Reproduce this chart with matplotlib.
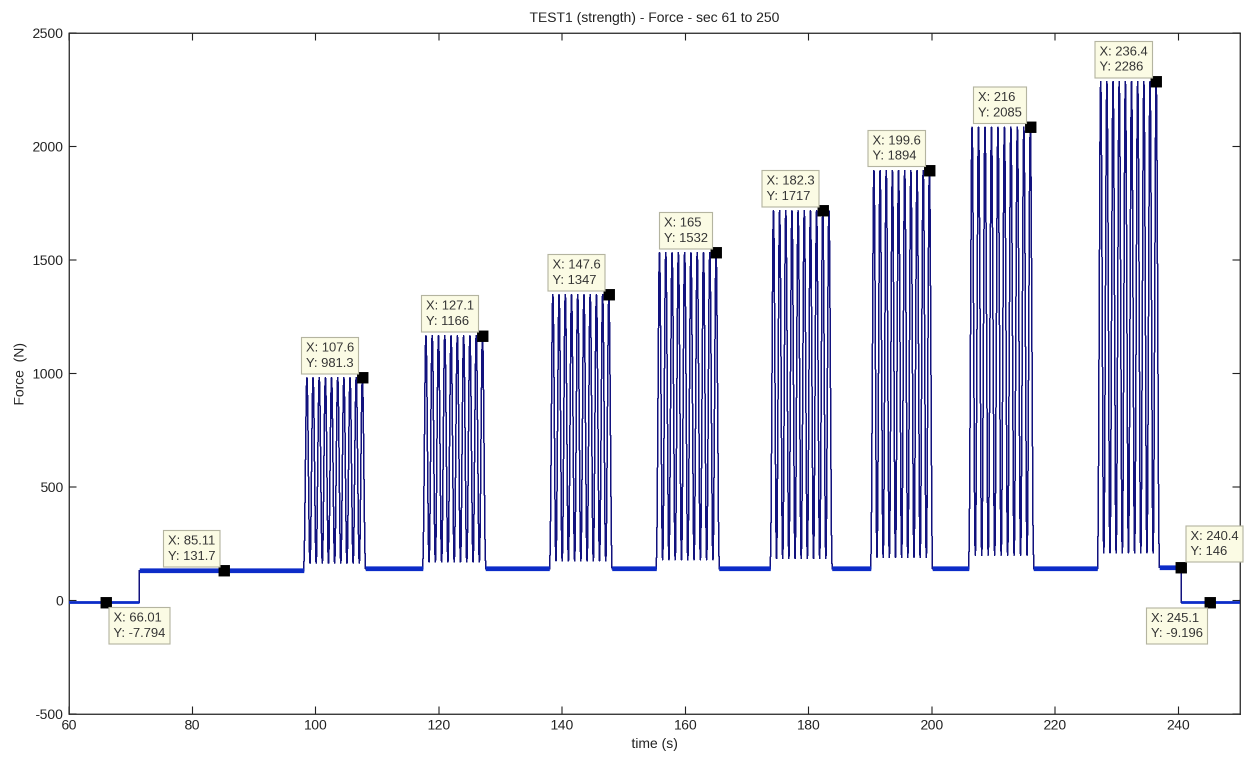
import numpy as np
import matplotlib
matplotlib.use("Agg")
import matplotlib.pyplot as plt

plt.rcParams['font.family'] = ['Liberation Sans', 'DejaVu Sans']
plt.rcParams['axes.unicode_minus'] = False

# Load-cycle blocks: start / end time (s), trough and peak force (N)
block_start = [98.1, 117.4, 138.0, 155.3, 173.8, 190.1, 206.0, 226.9]
block_end = [108.1, 127.6, 148.1, 165.5, 183.8, 200.1, 216.5, 236.9]
block_trough = [165, 170, 175, 180, 185, 190, 200, 210]
block_peak = [981.3, 1166, 1347, 1532, 1717, 1894, 2085, 2286]
cycles_per_block = 10

# Holding levels between the blocks: start / end time (s) and force (N)
hold_start = [60.0, 71.4, 108.1, 127.6, 148.1, 165.5, 183.8, 200.1, 216.5, 236.9, 240.5]
hold_end = [71.4, 98.1, 117.4, 138.0, 155.3, 173.8, 190.1, 206.0, 226.9, 240.5, 250.0]
hold_force = [-7.794, 131.7, 140, 140, 140, 140, 140, 140, 140, 146, -9.196]

# Data tips (time, force) and where each tip box sits relative to its point
tip_x = [66.01, 85.11, 107.6, 127.1, 147.6, 165, 182.3, 199.6, 216, 236.4, 240.4, 245.1]
tip_y = [-7.794, 131.7, 981.3, 1166, 1347, 1532, 1717, 1894, 2085, 2286, 146, -9.196]
tip_side = ['lr', 'ul', 'ul', 'ul', 'ul', 'ul', 'ul', 'ul', 'ul', 'ul', 'ur', 'll']

x_ticks = [60, 80, 100, 120, 140, 160, 180, 200, 220, 240]
y_ticks = [-500, 0, 500, 1000, 1500, 2000, 2500]

# Sampled force signal
dt = 0.005
t = np.arange(60.0, 250.0 + dt, dt)
force = np.zeros_like(t)
for hs, he, hf in zip(hold_start, hold_end, hold_force):
    m = (t >= hs) & (t <= he)
    force[m] = hf
for bs, be, lo, hi in zip(block_start, block_end, block_trough, block_peak):
    period = (be - bs) / cycles_per_block
    m = (t >= bs) & (t <= be)
    phase = 2 * np.pi * (t[m] - bs) / period
    force[m] = lo + (hi - lo) * 0.5 * (1 - np.cos(phase))

W, H = 1249, 758
SS = 2  # draw at twice the size, then average down to the final pixels
fig = plt.figure(figsize=(W / 100, H / 100), dpi=100 * SS)
ax = fig.add_axes([69 / W, 44 / H, (1240 - 69) / W, (714 - 33) / H])

line_blue = '#12127e'
hold_blue = '#0c2cc8'
ax.plot(t, force, color=line_blue, lw=0.72, antialiased=False, zorder=2)
for i, (hs, he, hf) in enumerate(zip(hold_start, hold_end, hold_force)):
    ax.plot([hs, he], [hf, hf], color=hold_blue,
            lw=2.0 if i in (0, len(hold_force) - 1) else 3.4,
            solid_capstyle='butt', zorder=3)

ax.set_xlim(60, 250)
ax.set_ylim(-500, 2500)
ax.set_xticks(x_ticks)
ax.set_yticks(y_ticks)
ax.tick_params(direction='in', length=5.5, width=0.8, top=True, right=True,
               labelsize=10, pad=4, colors='#222222')
for sp in ax.spines.values():
    sp.set_linewidth(0.9)
    sp.set_color('#222222')

ax.set_title('TEST1 (strength) - Force - sec 61 to 250', fontsize=10, pad=8, color='#222222')
ax.set_xlabel('time (s)', fontsize=10, labelpad=4, color='#222222')
ax.set_ylabel('Force  (N)', fontsize=10, labelpad=4, color='#222222')

# Data tip markers and labels
ax.plot(tip_x, tip_y, linestyle='none', marker='s', markersize=7,
        color='black', zorder=5)
offsets = {
    'ul': ((-6.0, 6.0), 'right', 'bottom'),
    'lr': ((5.5, -7.0), 'left', 'top'),
    'ur': ((7.0, 7.0), 'left', 'bottom'),
    'll': ((-5.0, -7.0), 'right', 'top'),
}
for x, y, side in zip(tip_x, tip_y, tip_side):
    off, ha, va = offsets[side]
    ax.annotate(f'X: {x:.4g}\nY: {y:.4g}', xy=(x, y), xytext=off,
                textcoords='offset points', ha=ha, va=va, ma='left',
                fontsize=9.3, color='#333333', linespacing=1.35, zorder=6,
                bbox=dict(boxstyle='square,pad=0.35', facecolor='#fbfbe4',
                          edgecolor='#b4b4a0', linewidth=0.8))

fig.canvas.draw()
img = np.asarray(fig.canvas.buffer_rgba())[:, :, :3].astype(float)
img = img[:H * SS, :W * SS].reshape(H, SS, W, SS, 3).mean(axis=(1, 3))
plt.imsave('out.png', np.clip(img, 0, 255).astype(np.uint8))
